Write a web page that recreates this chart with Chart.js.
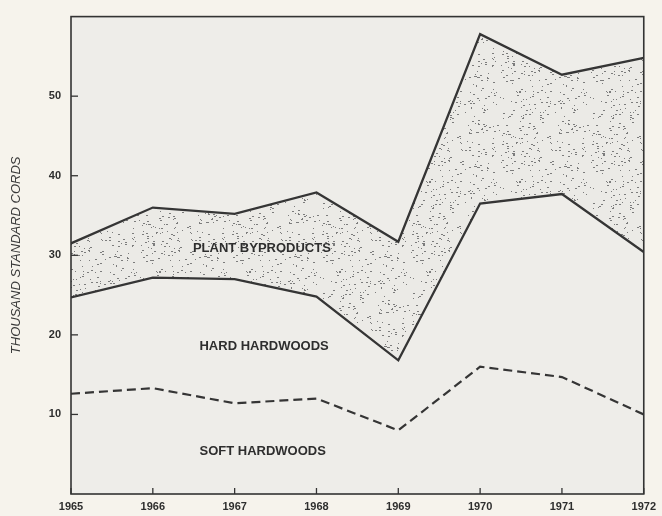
<!DOCTYPE html>
<html>
<head>
<meta charset="utf-8">
<script src="https://cdn.jsdelivr.net/npm/chart.js@4"></script>
<style>
  html, body { margin: 0; padding: 0; background: #f6f3ec; }
  #wrap { width: 662px; height: 516px; position: relative; }
</style>
</head>
<body>
<div id="wrap"><canvas id="grafico" width="662" height="516"></canvas></div>
<script>
// Anos do eixo x
const anos = [1965, 1966, 1967, 1968, 1969, 1970, 1971, 1972];

// Linhas limite (valores acumulados, mil cordas)
const softHardwoods = [12.6, 13.3, 11.4, 12.0, 8.0, 16.0, 14.7, 10.0];
const hardHardwoods = [24.7, 27.2, 27.0, 24.8, 16.8, 36.5, 37.7, 30.4];
const plantByproducts = [31.5, 36.0, 35.2, 37.9, 31.7, 57.8, 52.7, 54.8];

// Rótulos do eixo y
const yTicks = [10, 20, 30, 40, 50];

const pts = arr => arr.map((v, i) => ({ x: anos[i], y: v }));

// textura pontilhada (semente fixa, só estilo)
function pontilhado() {
    const c = document.createElement("canvas");
    c.width = 90; c.height = 90;
    const g = c.getContext("2d");
    g.fillStyle = "#ebeae6";
    g.fillRect(0, 0, 90, 90);
    let s = 12345;
    const rnd = () => { s = (s * 1103515245 + 12345) % 2147483648; return s / 2147483648; };
    g.fillStyle = "#7c7c7c";
    for (let i = 0; i < 260; i++) {
        const x = Math.floor(rnd() * 90), y = Math.floor(rnd() * 90);
        g.fillRect(x, y, rnd() < 0.5 ? 2 : 1, 1);
    }
    return g.createPattern(c, "repeat");
}

const textos = [
    { t: "PLANT BYPRODUCTS", x: 1966.49, y: 30.9 },
    { t: "HARD HARDWOODS", x: 1966.57, y: 18.6 },
    { t: "SOFT HARDWOODS", x: 1966.57, y: 5.3 }
];

const moldura = {
    id: "moldura",
    beforeDraw(chart) {
        const { ctx, chartArea: a } = chart;
        ctx.save();
        ctx.fillStyle = "#eeede9";
        ctx.fillRect(a.left, a.top, a.right - a.left, a.bottom - a.top);
        ctx.restore();
    },
    afterDatasetsDraw(chart) {
        const { ctx, chartArea: a, scales } = chart;
        ctx.save();
        ctx.strokeStyle = "#333";
        ctx.lineWidth = 1.6;
        ctx.strokeRect(a.left, a.top, a.right - a.left, a.bottom - a.top);
        ctx.lineWidth = 1.3;
        yTicks.forEach(v => {
            const y = scales.y.getPixelForValue(v);
            ctx.beginPath(); ctx.moveTo(a.left, y); ctx.lineTo(a.left + 7, y); ctx.stroke();
        });
        anos.forEach(v => {
            const x = scales.x.getPixelForValue(v);
            ctx.beginPath(); ctx.moveTo(x, a.bottom); ctx.lineTo(x, a.bottom - 6); ctx.stroke();
        });
        ctx.fillStyle = "#2e2e2e";
        ctx.font = "bold 13px 'Liberation Sans', Arial, sans-serif";
        ctx.textBaseline = "middle";
        ctx.textAlign = "left";
        textos.forEach(l => {
            ctx.fillText(l.t, scales.x.getPixelForValue(l.x), scales.y.getPixelForValue(l.y));
        });
        ctx.restore();
    }
};

const cor = "#353535";

new Chart(document.getElementById("grafico"), {
    type: "line",
    data: {
        datasets: [
            { label: "Soft hardwoods", data: pts(softHardwoods), borderColor: cor, borderWidth: 2.2, borderDash: [9, 5], fill: false, pointRadius: 0, tension: 0 },
            { label: "Hard hardwoods", data: pts(hardHardwoods), borderColor: cor, borderWidth: 2.3, fill: false, pointRadius: 0, tension: 0 },
            { label: "Plant byproducts", data: pts(plantByproducts), borderColor: cor, borderWidth: 2.3, fill: "-1", backgroundColor: pontilhado(), pointRadius: 0, tension: 0 }
        ]
    },
    options: {
        responsive: false,
        animation: false,
        layout: { padding: { top: 7, right: 16, left: 9, bottom: 0 } },
        plugins: { legend: { display: false }, tooltip: { enabled: false } },
        scales: {
            x: {
                type: "linear", min: 1965, max: 1972,
                grid: { display: false, drawTicks: false },
                border: { display: false },
                afterFit: s => { s.height = 22; },
                afterBuildTicks: s => { s.ticks = anos.map(v => ({ value: v })); },
                ticks: {
                    padding: 6, maxRotation: 0, autoSkip: false,
                    color: "#2e2e2e",
                    font: { family: "'Liberation Sans', Arial, sans-serif", size: 11, weight: "bold" },
                    callback: v => String(v)
                }
            },
            y: {
                min: 0, max: 60,
                grid: { display: false, drawTicks: false },
                border: { display: false },
                afterFit: s => { s.width = 62; },
                afterBuildTicks: s => { s.ticks = yTicks.map(v => ({ value: v })); },
                ticks: {
                    padding: 10,
                    color: "#2e2e2e",
                    font: { family: "'Liberation Sans', Arial, sans-serif", size: 11, weight: "bold" }
                },
                title: {
                    display: true,
                    text: "THOUSAND STANDARD CORDS",
                    color: "#3a3a3a",
                    padding: { top: 0, bottom: 0 },
                    font: { family: "'Liberation Sans', Arial, sans-serif", size: 13, style: "italic" }
                }
            }
        }
    },
    plugins: [moldura]
});
</script>
</body>
</html>
